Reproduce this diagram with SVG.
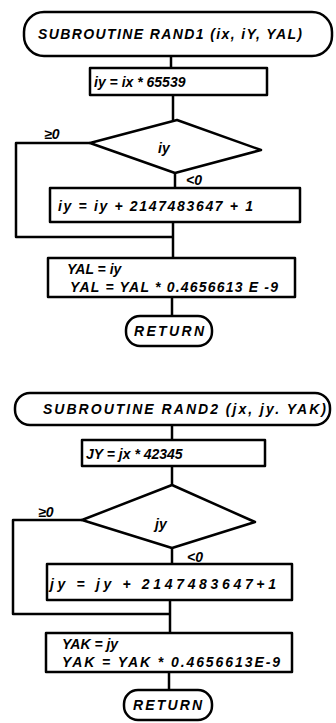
<svg xmlns="http://www.w3.org/2000/svg" width="336" height="723" viewBox="0 0 336 723">
<style>
.s{fill:none;stroke:#000;stroke-width:2.5;stroke-linejoin:round}
.t{font-family:"Liberation Sans",Arial,sans-serif;font-weight:bold;font-style:italic;font-size:14px;fill:#000}
</style>
<rect width="336" height="723" fill="#fff"/>
<g id="connectors" class="s">
<path d="M171 56V68"/>
<path d="M173 95V120"/>
<path d="M90 143H16V237H173"/>
<path d="M175 173V188"/>
<path d="M173 222V258"/>
<path d="M172 297V316"/>
<path d="M172 425V440"/>
<path d="M172 466V485"/>
<path d="M82 520H13V614H170"/>
<path d="M172 548V564"/>
<path d="M170 600V633"/>
<path d="M169 672V690"/>
</g>
<g id="start1"><rect class="s" x="24" y="12" width="308" height="44" rx="20"/><text class="t" x="38" y="39" textLength="264" lengthAdjust="spacing">SUBROUTINE RAND1 (ix, iY, YAL)</text></g>
<g id="box1a"><rect class="s" x="90" y="68" width="177" height="27"/><text class="t" x="94" y="87">iy = ix * 65539</text></g>
<g id="dec1"><polygon class="s" points="177,120 261,150 175,173 90,143"/><text class="t" x="158" y="153" font-size="15">iy</text></g>
<text class="t" x="44" y="139" font-size="13">≥0</text>
<text class="t" x="186" y="185" font-size="13">&lt;0</text>
<g id="box1b"><rect class="s" x="50" y="188" width="250" height="34"/><text class="t" x="58" y="211" textLength="195" lengthAdjust="spacing">iy = iy + 2147483647 + 1</text></g>
<g id="box1c"><rect class="s" x="48" y="258" width="247" height="39"/><text class="t" x="67" y="274">YAL = iy</text><text class="t" x="70" y="292" textLength="208" lengthAdjust="spacing">YAL = YAL * 0.4656613 E -9</text></g>
<g id="ret1"><rect class="s" x="126" y="316" width="86" height="30" rx="14"/><text class="t" x="134" y="336" textLength="70" lengthAdjust="spacing">RETURN</text></g>
<g id="start2"><rect class="s" x="15" y="393" width="315" height="32" rx="15"/><text class="t" x="43" y="414" textLength="283" lengthAdjust="spacing">SUBROUTINE RAND2 (jx, jy. YAK)</text></g>
<g id="box2a"><rect class="s" x="82" y="440" width="183" height="26"/><text class="t" x="86" y="459" font-size="15">JY = jx * 42345</text></g>
<g id="dec2"><polygon class="s" points="172,485 255,522 172,548 82,520"/><text class="t" x="155" y="529" font-size="15">jy</text></g>
<text class="t" x="38" y="517" font-size="13">≥0</text>
<text class="t" x="187" y="562" font-size="13">&lt;0</text>
<g id="box2b"><rect class="s" x="47" y="564" width="245" height="36"/><text class="t" x="50" y="589" textLength="226" lengthAdjust="spacing">jy = jy + 2147483647+1</text></g>
<g id="box2c"><rect class="s" x="46" y="633" width="246" height="39"/><text class="t" x="62" y="649">YAK = jy</text><text class="t" x="62" y="667" textLength="218" lengthAdjust="spacing">YAK = YAK * 0.4656613E-9</text></g>
<g id="ret2"><rect class="s" x="124" y="690" width="88" height="30" rx="14"/><text class="t" x="133" y="710" textLength="69" lengthAdjust="spacing">RETURN</text></g>
</svg>
